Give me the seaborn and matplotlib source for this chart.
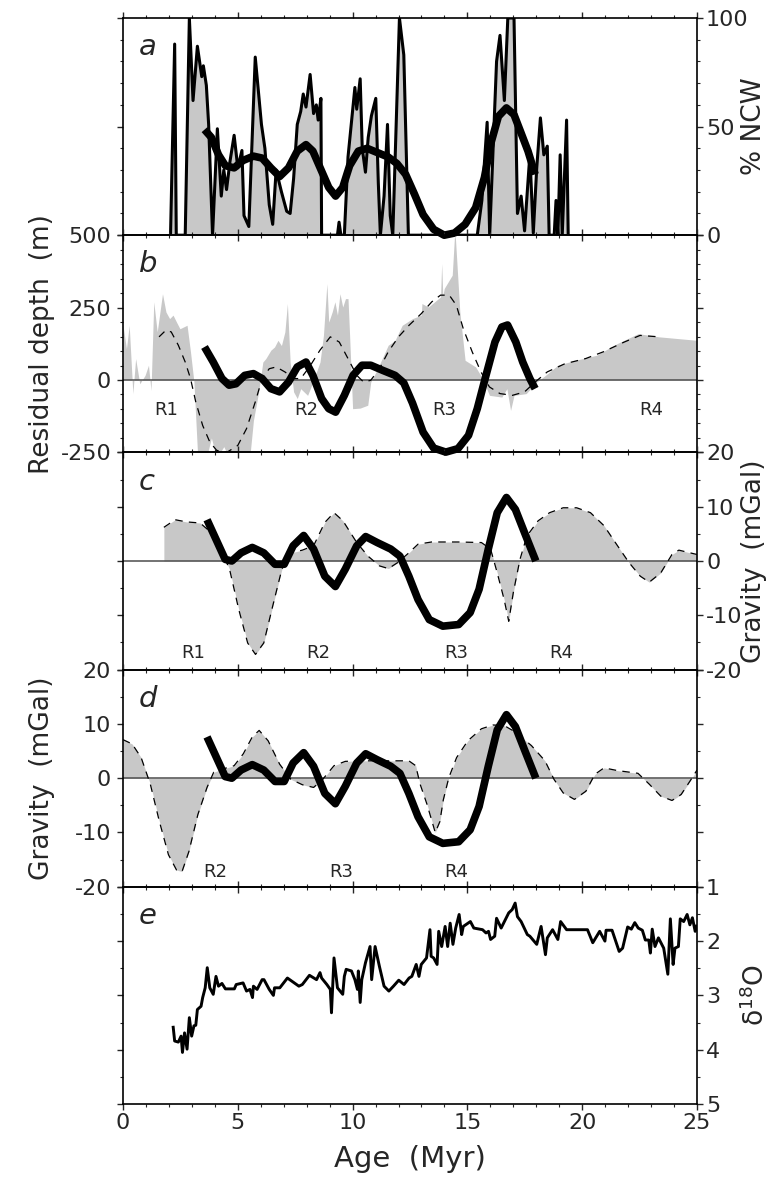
import numpy as np
import pandas as pd
import matplotlib
matplotlib.use("Agg")
import matplotlib.pyplot as plt
from matplotlib.ticker import MultipleLocator
import seaborn as sns

# ---------------- data ----------------
# panel a: % NCW raw record and smoothed curve
ncw_age = [2.07, 2.25, 2.32, 2.71, 2.89, 3.05, 3.24, 3.43, 3.50, 3.63, 3.73, 3.90, 4.11, 4.28, 4.39,
           4.51, 4.66, 4.84, 5.00, 5.18, 5.27, 5.48, 5.76, 6.03, 6.18, 6.37, 6.52, 6.67, 6.90, 7.13,
           7.28, 7.43, 7.59, 7.74, 7.85, 7.97, 8.15, 8.30, 8.42, 8.50, 8.62, 8.65, 9.34, 9.41, 9.49,
           9.64, 9.80, 10.10, 10.18, 10.33, 10.42, 10.56, 10.68, 10.82, 11.01, 11.12, 11.21, 11.37,
           11.52, 11.64, 11.75, 12.04, 12.23, 12.43, 15.43, 15.63, 15.86, 15.97, 16.27, 16.42, 16.61,
           16.76, 17.03, 17.18, 17.34, 17.49, 17.72, 17.87, 18.02, 18.18, 18.33, 18.48, 18.56, 18.78,
           18.86, 18.94, 19.04, 19.13, 19.32, 19.39]
ncw_pct = [0, 88, 0, 0, 100, 62, 87, 73, 78, 69, 51, 0, 49, 18, 30,
           21, 34, 46, 31, 39, 9, 4, 82, 51, 40, 14, 5, 30, 20, 11,
           10, 26, 51, 57, 65, 59, 74, 56, 60, 53, 63, 0, 0, 6, 0,
           0, 36, 68, 58, 72, 40, 29, 45, 55, 63, 24, 0, 18,
           51, 9, 0, 100, 83, 0, 0, 16, 52, 0, 80, 92, 62,
           100, 100, 10, 18, 2, 37, 1, 31, 54, 37, 41, 0, 0,
           16, 0, 37, 0, 53, 0]

ncw_smooth_age = [3.55, 3.85, 4.16, 4.46, 4.84, 5.23, 5.68, 6.06, 6.44, 6.82, 7.21, 7.59, 7.97, 8.27,
                  8.65, 8.96, 9.26, 9.57, 9.87, 10.25, 10.63, 11.09, 11.55, 11.93, 12.31, 12.69, 13.07,
                  13.53, 13.99, 14.44, 14.90, 15.36, 15.74, 16.04, 16.35, 16.70, 17.03, 17.34, 17.64, 17.95]
ncw_smooth_pct = [48.6, 45, 37, 32, 31, 34.4, 36.4, 35.5, 31, 27, 31, 38.7, 41.7, 38.7,
                  29.5, 22, 18, 22, 32, 38.7, 40, 38, 36, 33, 28, 19, 9.5,
                  2.7, 0, 1, 5, 12.7, 26.5, 43, 54.7, 58.6, 55.5, 47, 38.7, 28]

# panel b: residual depth (raw, smoothed dashed) and scaled NCW curve
depth_age = [0.0, 0.15, 0.27, 0.43, 0.55, 0.73, 0.96, 1.11, 1.22, 1.34, 1.49, 1.72, 1.87, 2.03, 2.18,
             2.33, 2.48, 2.79, 2.94, 3.09, 3.25, 3.63, 3.85, 4.08, 4.39, 4.69, 5.07, 5.53, 5.68, 5.91,
             6.09, 6.22, 6.44, 6.60, 6.75, 6.90, 7.05, 7.16, 7.28, 7.43, 7.59, 7.74, 8.04, 8.27, 8.58,
             8.73, 8.88, 8.96, 9.11, 9.23, 9.34, 9.45, 9.57, 9.69, 9.80, 9.87, 10.00, 10.33, 10.66,
             10.79, 11.09, 11.55, 11.85, 12.16, 12.61, 12.99, 13.02, 13.30, 13.83, 13.88, 13.93, 13.99,
             14.34, 14.44, 14.48, 14.67, 14.90, 15.36, 15.66, 15.96, 16.50, 16.72, 16.88, 17.03, 17.56,
             18.02, 18.40, 18.94, 19.70, 20.61, 21.53, 22.44, 23.35, 25.0]
depth_m = [189, 108, 189, -47, 74, -13, 16, 51, -36, 270, 166, 298, 235, 212, 224,
           200, 177, 189, 97, -7, -260, -270, -200, -270, -230, -280, -270, -260, -140, -40,
           62, 74, 103, 114, 137, 119, 166, 264, 62, -41, -64, -30, -53, -7, 62,
           154, 333, 200, 235, 270, 224, 298, 252, 281, 281, 154, -99, -97, -87,
           -7, 39, 120, 137, 189, 212, 224, 264, 252, 287, 402, 290, 316,
           362, 500, 488, 235, 68, 45, 5, -53, -59, -30, -105, -53, -47,
           -7, 16, 51, 68, 85, 126, 160, 149, 137]

depth_smooth_age = [1.57, 1.87, 2.10, 2.41, 2.71, 2.94, 3.17, 3.47, 3.78, 4.08, 4.54, 5.00, 5.38, 5.76,
                    6.06, 6.37, 6.67, 7.05, 7.43, 7.74, 8.12, 8.58, 9.03, 9.42, 9.80, 10.18, 10.48,
                    10.79, 11.17, 11.55, 12.00, 12.46, 12.99, 13.45, 13.83, 14.21, 14.52, 14.82, 15.21,
                    15.59, 15.96, 16.42, 16.96, 17.49, 17.95, 18.48, 19.24, 20.15, 20.91, 21.83, 22.52, 23.35]
depth_smooth_m = [149, 172, 166, 120, 62, 5, -76, -157, -214, -243, -249, -226, -168, -76,
                  5, 39, 45, 28, 5, 5, 45, 103, 149, 131, 74, 16, -7,
                  -1, 39, 97, 149, 189, 229, 270, 293, 293, 258, 177, 97,
                  28, -24, -47, -53, -41, -7, 28, 56, 74, 97, 131, 154, 149]

ncw_depth_age = [3.55, 3.93, 4.31, 4.62, 4.92, 5.30, 5.68, 6.06, 6.44, 6.82, 7.21, 7.59, 7.97, 8.27,
                 8.65, 8.96, 9.26, 9.64, 10.02, 10.41, 10.79, 11.32, 11.85, 12.23, 12.61, 13.07, 13.53,
                 14.06, 14.59, 15.05, 15.43, 15.81, 16.20, 16.50, 16.75, 17.11, 17.41, 17.72, 17.95]
ncw_depth_m = [114, 62, 5, -18, -13, 16, 22, 5, -30, -41, -7, 45, 62, 16,
               -64, -99, -111, -53, 16, 51, 51, 33, 16, -10, -80, -180, -235,
               -249, -237, -191, -99, 16, 131, 183, 190, 131, 62, 5, -30]

# panels c and d: gravity anomalies and scaled NCW curve
grav_c_age = [1.78, 2.27, 2.77, 3.36, 3.85, 4.25, 4.64, 5.04, 5.43, 5.77, 6.13, 6.52, 6.92, 7.31, 7.81,
              8.30, 8.79, 9.19, 9.58, 10.18, 10.67, 11.17, 11.56, 11.96, 12.45, 12.85, 13.44, 14.62,
              15.61, 16.01, 16.30, 16.60, 16.80, 17.00, 17.29, 17.59, 18.08, 18.58, 19.17, 19.76,
              20.36, 20.95, 21.54, 22.04, 22.53, 22.92, 23.42, 23.91, 24.21, 24.70, 25.0]
grav_c_mgal = [6.2, 7.6, 7.2, 7.0, 5.2, 2.2, -1.5, -8.9, -15.1, -17.2, -15.1, -8.3, -1.5, 1.5, 2.0,
               2.8, 7.1, 8.9, 7.4, 3.4, 0.9, -0.9, -1.4, -0.3, 1.5, 3.1, 3.5, 3.5,
               3.4, 2.2, -2.2, -7.1, -11.1, -5.8, 0.3, 4.6, 7.4, 8.9, 9.8, 9.8,
               8.9, 6.5, 2.8, -0.3, -2.8, -3.9, -2.2, 1.2, 2.0, 1.5, 1.2]

grav_d_age = [0.0, 0.40, 0.79, 1.19, 1.58, 1.98, 2.33, 2.57, 2.87, 3.26, 3.66, 3.95, 4.35, 4.84, 5.24,
              5.63, 5.93, 6.32, 6.82, 7.31, 7.81, 8.30, 8.70, 9.19, 9.68, 10.28, 11.07, 11.86, 12.45,
              12.75, 12.94, 13.24, 13.60, 13.80, 13.95, 14.19, 14.53, 15.02, 15.61, 16.11, 16.60, 17.09,
              17.79, 18.38, 18.77, 19.17, 19.66, 20.16, 20.55, 20.95, 21.54, 22.43, 22.92, 23.42, 23.91,
              24.31, 24.70, 25.0]
grav_d_mgal = [7.1, 6.3, 3.8, -1.1, -7.9, -14.1, -16.9, -17.2, -13.5, -6.7, -1.7, 1.1, 1.7, 2.3, 4.5,
               7.6, 8.8, 6.9, 2.6, -0.2, -1.2, -1.7, -0.2, 2.3, 3.1, 3.2, 3.2, 3.2, 3.2,
               2.3, -1.1, -4.8, -10.0, -8.0, -4.0, 0.1, 3.8, 6.9, 9.1, 9.8, 9.7, 8.5,
               6.0, 3.2, -0.2, -2.7, -3.9, -2.4, 0.7, 1.9, 1.4, 0.9, -1.1, -3.3, -4.1,
               -3.0, -0.5, 1.5]

ncw_grav_age = [3.66, 4.05, 4.45, 4.74, 5.14, 5.63, 6.13, 6.62, 7.02, 7.41, 7.87, 8.30, 8.79, 9.25,
                9.68, 10.18, 10.57, 11.07, 11.66, 12.06, 12.45, 12.85, 13.34, 13.93, 14.62, 15.12,
                15.51, 15.91, 16.30, 16.70, 17.09, 17.49, 17.98]
ncw_grav_mgal = [7.6, 4.0, 0.3, 0.0, 1.5, 2.5, 1.5, -0.6, -0.6, 2.8, 4.7, 2.2, -2.8, -4.7,
                 -1.5, 2.8, 4.5, 3.4, 2.2, 0.9, -2.8, -7.1, -10.8, -12.0, -11.7, -9.5,
                 -5.2, 2.2, 8.9, 11.7, 9.5, 5.2, 0.0]

# panel e: benthic delta 18O
d18o_age = [2.18, 2.25, 2.41, 2.53, 2.59, 2.68, 2.79, 2.89, 2.99, 3.09, 3.17, 3.24, 3.40, 3.47, 3.58,
            3.67, 3.78, 3.93, 4.05, 4.16, 4.31, 4.46, 4.85, 4.93, 5.23, 5.38, 5.53, 5.64, 5.68, 5.84,
            6.06, 6.14, 6.37, 6.55, 6.60, 6.83, 7.16, 7.66, 7.81, 8.12, 8.43, 8.58, 8.65, 8.88, 9.03,
            9.08, 9.19, 9.34, 9.57, 9.64, 9.72, 9.95, 10.10, 10.21, 10.25, 10.33, 10.40, 10.56, 10.76,
            10.83, 10.98, 11.17, 11.37, 11.58, 11.78, 12.01, 12.24, 12.46, 12.58, 12.77, 12.89, 12.99,
            13.22, 13.37, 13.42, 13.53, 13.68, 13.75, 13.88, 14.03, 14.14, 14.25, 14.37, 14.49, 14.64,
            14.75, 14.82, 15.13, 15.28, 15.66, 15.81, 15.92, 16.01, 16.19, 16.27, 16.47, 16.80, 16.95,
            17.08, 17.18, 17.34, 17.61, 17.72, 18.02, 18.21, 18.40, 18.48, 18.71, 18.94, 19.06, 19.32,
            20.00, 20.23, 20.46, 20.76, 20.99, 21.04, 21.30, 21.61, 21.76, 21.98, 22.14, 22.29, 22.44,
            22.62, 22.75, 22.90, 22.97, 23.05, 23.17, 23.32, 23.43, 23.55, 23.73, 23.84, 23.96, 24.04,
            24.19, 24.27, 24.42, 24.57, 24.69, 24.80, 24.92, 25.0]
d18o_val = [3.56, 3.84, 3.86, 3.75, 4.05, 3.69, 3.99, 3.41, 3.75, 3.56, 3.55, 3.26, 3.20, 3.04, 2.86,
            2.49, 2.86, 2.98, 2.65, 2.83, 2.78, 2.88, 2.88, 2.80, 2.77, 2.92, 2.89, 3.04, 2.83, 2.89,
            2.71, 2.71, 2.89, 3.00, 2.86, 2.86, 2.68, 2.83, 2.80, 2.63, 2.71, 2.58, 2.68, 2.80, 2.89,
            3.32, 2.31, 2.86, 2.98, 2.65, 2.52, 2.55, 2.71, 2.89, 2.55, 3.13, 2.71, 2.40, 2.10,
            2.71, 2.10, 2.47, 2.83, 2.92, 2.83, 2.72, 2.80, 2.68, 2.65, 2.43, 2.65, 2.43,
            2.31, 1.79, 2.28, 2.31, 2.43, 1.82, 2.10, 1.73, 2.10, 1.67, 2.06, 1.76, 1.51,
            1.88, 1.73, 1.64, 1.76, 1.79, 1.85, 1.82, 1.97, 1.91, 1.58, 1.76, 1.48, 1.42,
            1.30, 1.55, 1.64, 1.88, 1.91, 2.06, 1.73, 2.25, 1.94, 1.79, 1.97, 1.64, 1.79,
            1.79, 1.79, 2.03, 1.82, 2.00, 1.80, 1.80, 2.19, 2.13, 1.74, 1.78, 1.66, 1.76,
            1.80, 1.98, 1.98, 2.22, 1.78, 2.10, 1.94, 2.03, 2.13, 2.61, 1.59, 2.43, 2.13,
            2.10, 1.59, 1.64, 1.51, 1.70, 1.57, 1.82, 1.70]

# region labels
r_labels_b = ["R1", "R2", "R3", "R4"]
r_pos_b = [1.88, 8.0, 14.0, 23.0]
r_labels_c = ["R1", "R2", "R3", "R4"]
r_pos_c = [3.06, 8.5, 14.5, 19.1]
r_labels_d = ["R2", "R3", "R4"]
r_pos_d = [4.0, 9.5, 14.5]

# ---------------- style ----------------
sns.set_theme(style="ticks")
plt.rcParams["font.family"] = ["DejaVu Sans"]
plt.rcParams["axes.unicode_minus"] = False
plt.rcParams["axes.linewidth"] = 1.2
plt.rcParams["xtick.major.width"] = 1.0
plt.rcParams["ytick.major.width"] = 1.0
plt.rcParams["xtick.minor.width"] = 0.8
plt.rcParams["ytick.minor.width"] = 0.8
plt.rcParams["lines.solid_joinstyle"] = "round"
plt.rcParams["lines.solid_capstyle"] = "butt"

FILL = "#c8c8c8"
TICK_FS = 16
LABEL_FS = 19

W, H = 773, 1193
fig = plt.figure(figsize=(W / 100, H / 100), dpi=100)
left_px, right_px, top_px, bot_px = 123, 697, 18, 1104
ph = (bot_px - top_px) / 5
axw = right_px - left_px
axes = []
for i in range(5):
    b = 1 - (top_px + (i + 1) * ph) / H
    ax = fig.add_axes([left_px / W, b, axw / W, ph / H])
    ax.set_facecolor("none")
    axes.append(ax)

LEFT_LABEL_X = (55 - left_px) / axw
RIGHT_LABEL_X = (741 - left_px) / axw


def style_axis(ax, ymin, ymax, ymajor, yminor, side, bottom_labels=False):
    ax.set_xlim(0, 25)
    ax.set_ylim(ymin, ymax)
    ax.xaxis.set_major_locator(MultipleLocator(5))
    ax.xaxis.set_minor_locator(MultipleLocator(1))
    ax.yaxis.set_major_locator(MultipleLocator(ymajor))
    ax.yaxis.set_minor_locator(MultipleLocator(yminor))
    ax.tick_params(axis="x", which="both", direction="out", top=True, bottom=True,
                   labelbottom=bottom_labels, labeltop=False, labelsize=TICK_FS, pad=2)
    ax.tick_params(axis="y", which="both", direction="out", left=True, right=True,
                   labelleft=(side == "left"), labelright=(side == "right"),
                   labelsize=TICK_FS, pad=(4 if side == "left" else 2))
    ax.tick_params(which="major", length=4.5)
    ax.tick_params(which="minor", length=2.5)
    for s in ax.spines.values():
        s.set_color("black")
    ax.set_xlabel("")
    ax.set_ylabel("")
    if side == "right":
        ax.yaxis.set_label_position("right")


def set_ylab(ax, text, side):
    ax.set_ylabel(text, fontsize=LABEL_FS)
    if side == "left":
        ax.yaxis.set_label_coords(LEFT_LABEL_X, 0.5)
    else:
        ax.yaxis.set_label_coords(RIGHT_LABEL_X, 0.5)


def panel_letter(ax, letter):
    ax.text(0.027, 0.93, letter, transform=ax.transAxes, ha="left", va="top",
            fontsize=21, style="italic")


# ----- panel a -----
ax = axes[0]
df_a = pd.DataFrame({"age": ncw_age, "ncw": ncw_pct})
ax.fill_between(df_a["age"], 0, df_a["ncw"], color=FILL, lw=0, zorder=1)
sns.lineplot(data=df_a, x="age", y="ncw", ax=ax, color="black", linewidth=2.2,
             estimator=None, sort=False, zorder=3)
df_as = pd.DataFrame({"age": ncw_smooth_age, "ncw": ncw_smooth_pct})
sns.lineplot(data=df_as, x="age", y="ncw", ax=ax, color="black", linewidth=5.5,
             estimator=None, sort=False, zorder=4, clip_on=False)
style_axis(ax, 0, 100, 50, 10, "right")
set_ylab(ax, "% NCW", "right")
panel_letter(ax, "a")

# ----- panel b -----
ax = axes[1]
df_b = pd.DataFrame({"age": depth_age, "depth": depth_m})
ax.fill_between(df_b["age"], 0, df_b["depth"], color=FILL, lw=0, zorder=1)
ax.axhline(0, color="#4d4d4d", lw=1.1, zorder=2)
df_bs = pd.DataFrame({"age": depth_smooth_age, "depth": depth_smooth_m})
sns.lineplot(data=df_bs, x="age", y="depth", ax=ax, color="black", linewidth=0.9,
             estimator=None, sort=False, zorder=3)
ax.lines[-1].set_dashes((6, 5))
df_bn = pd.DataFrame({"age": ncw_depth_age, "depth": ncw_depth_m})
sns.lineplot(data=df_bn, x="age", y="depth", ax=ax, color="black", linewidth=5.5,
             estimator=None, sort=False, zorder=4, clip_on=False)
style_axis(ax, -250, 500, 250, 50, "left")
set_ylab(ax, "Residual depth  (m)", "left")
for lab, xp in zip(r_labels_b, r_pos_b):
    ax.text(xp, -105, lab, ha="center", va="center", fontsize=13)
panel_letter(ax, "b")

# ----- panel c -----
ax = axes[2]
df_c = pd.DataFrame({"age": grav_c_age, "grav": grav_c_mgal})
ax.fill_between(df_c["age"], 0, df_c["grav"], color=FILL, lw=0, zorder=1)
ax.axhline(0, color="#4d4d4d", lw=1.1, zorder=2)
sns.lineplot(data=df_c, x="age", y="grav", ax=ax, color="black", linewidth=0.9,
             estimator=None, sort=False, zorder=3)
ax.lines[-1].set_dashes((6, 5))
df_cn = pd.DataFrame({"age": ncw_grav_age, "grav": ncw_grav_mgal})
sns.lineplot(data=df_cn, x="age", y="grav", ax=ax, color="black", linewidth=5.5,
             estimator=None, sort=False, zorder=4, clip_on=False)
style_axis(ax, -20, 20, 10, 5, "right")
set_ylab(ax, "Gravity  (mGal)", "right")
for lab, xp in zip(r_labels_c, r_pos_c):
    ax.text(xp, -16.9, lab, ha="center", va="center", fontsize=13)
panel_letter(ax, "c")

# ----- panel d -----
ax = axes[3]
df_d = pd.DataFrame({"age": grav_d_age, "grav": grav_d_mgal})
ax.fill_between(df_d["age"], 0, df_d["grav"], color=FILL, lw=0, zorder=1)
ax.axhline(0, color="#4d4d4d", lw=1.1, zorder=2)
sns.lineplot(data=df_d, x="age", y="grav", ax=ax, color="black", linewidth=0.9,
             estimator=None, sort=False, zorder=3)
ax.lines[-1].set_dashes((6, 5))
sns.lineplot(data=df_cn, x="age", y="grav", ax=ax, color="black", linewidth=5.5,
             estimator=None, sort=False, zorder=4, clip_on=False)
style_axis(ax, -20, 20, 10, 5, "left")
set_ylab(ax, "Gravity  (mGal)", "left")
for lab, xp in zip(r_labels_d, r_pos_d):
    ax.text(xp, -17.2, lab, ha="center", va="center", fontsize=13)
panel_letter(ax, "d")

# ----- panel e -----
ax = axes[4]
df_e = pd.DataFrame({"age": d18o_age, "d18o": d18o_val})
sns.lineplot(data=df_e, x="age", y="d18o", ax=ax, color="black", linewidth=2.1,
             estimator=None, sort=False, zorder=3)
style_axis(ax, 1, 5, 1, 0.5, "right", bottom_labels=True)
ax.set_ylim(5, 1)
set_ylab(ax, r"$\mathregular{\delta^{18}O}$", "right")
ax.set_xlabel("Age  (Myr)", fontsize=21)
ax.xaxis.set_label_coords(0.5, -0.19)
panel_letter(ax, "e")

for a in axes:
    leg = a.get_legend()
    if leg is not None:
        leg.remove()

fig.savefig("out.png", dpi=100)
